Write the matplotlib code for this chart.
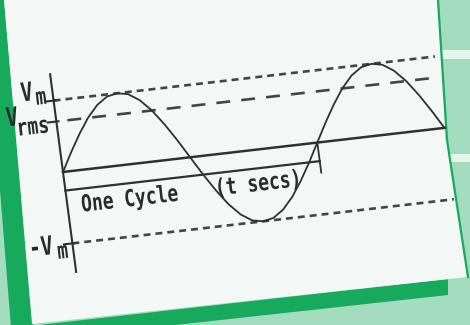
import numpy as np
import matplotlib
matplotlib.use("Agg")
import matplotlib.pyplot as plt
from matplotlib.patches import Polygon, PathPatch
from matplotlib.transforms import Affine2D
from matplotlib.textpath import TextPath
from matplotlib.font_manager import FontProperties

plt.rcParams['lines.scale_dashes'] = False

# wave (phase in degrees, voltage in units of Vm)
wave_deg = [0, 15, 30, 45, 60, 75, 90, 105, 120, 135, 150, 165, 180,
            195, 210, 225, 240, 255, 270, 285, 300, 315, 330, 345, 360,
            375, 390, 405, 420, 435, 450, 465, 480, 495, 510, 525, 540]
wave_v = [0.00, 0.26, 0.50, 0.71, 0.87, 0.97, 1.00, 0.97, 0.87, 0.71, 0.50, 0.26, 0.00,
          -0.26, -0.50, -0.71, -0.87, -0.97, -1.00, -0.97, -0.87, -0.71, -0.50, -0.26, 0.00,
          0.26, 0.50, 0.71, 0.87, 0.97, 1.00, 0.97, 0.87, 0.71, 0.50, 0.26, 0.00]

v_max = 1.0
v_rms = 0.707
cycle_deg = 360
span_deg = [0, 540]
cycle_line_v = -0.26

ink = '#303030'
mint = '#a3dbbf'
green = '#17a95c'
paper = '#f3f8f6'

fig = plt.figure(figsize=(4.7, 3.25), dpi=100)
fig.patch.set_facecolor(mint)
ax = fig.add_axes([0, 0, 1, 1])
ax.set_axis_off()

# page background bits (image pixel coords, y down)
ax.add_patch(Polygon([(440, 50), (470, 50), (470, 59), (441, 59)], color='#e6f5ec', lw=0))
ax.add_patch(Polygon([(446, 154), (470, 154), (470, 162), (447, 162)], color='#e6f5ec', lw=0))
ax.add_patch(Polygon([(30, 326), (448, 279), (448, 295), (30, 341)], color=green, lw=0))
ax.add_patch(Polygon([(0, 0), (4, 0), (35, 340), (12, 340), (0, 190)], color=green, lw=0))
ax.add_patch(Polygon([(4, 0), (438, 0), (447, 140), (468, 277), (32, 324)], color=paper, lw=0))
ax.plot([438, 447, 468], [0, 140, 277], color=green, lw=1.6)

# the diagram is photographed at a tilt: degrees/Vm -> pixels
th = np.deg2rad(6.6)
ph = np.deg2rad(7.5)
su = 256 / 360
sv = 72
M = np.array([[su * np.cos(th), -sv * np.sin(ph), 63],
              [-su * np.sin(th), -sv * np.cos(ph), 172],
              [0, 0, 1]])
tr = Affine2D(M) + ax.transData

# reference levels
ax.plot(span_deg, [v_max, v_max], transform=tr, color='#444444', lw=1.9, ls=(0, (5, 3.6)))
ax.plot(span_deg, [-v_max, -v_max], transform=tr, color='#444444', lw=1.9, ls=(0, (5, 3.6)))
ax.plot(span_deg, [v_rms, v_rms], transform=tr, color='#444444', lw=1.9, ls=(10, (10, 8)))
for lev in [v_max, v_rms, -v_max]:
    ax.plot([-12, 3], [lev, lev], transform=tr, color=ink, lw=1.5)

# axes
ax.plot(span_deg, [0, 0], transform=tr, color=ink, lw=1.8)
ax.plot([0, 0], [-1.4, 1.37], transform=tr, color=ink, lw=1.5)

# one cycle marker
ax.plot([0, cycle_deg], [cycle_line_v, cycle_line_v], transform=tr, color=ink, lw=1.6)
ax.plot([cycle_deg, cycle_deg], [0, -0.42], transform=tr, color=ink, lw=1.3)

# the wave
ax.plot(wave_deg, wave_v, transform=tr, color=ink, lw=1.3)

# tall narrow computer lettering -> stretched text paths
fp = FontProperties(family='DejaVu Sans Mono', weight='bold')

def label(u, v, s, em=18, stretch=1.3):
    cx, cy, _ = M @ np.array([u, v, 1.0])
    p = TextPath((0, 0), s, size=em, prop=fp)
    b = p.get_extents()
    t = (Affine2D().translate(-(b.x0 + b.x1) / 2, -(b.y0 + b.y1) / 2)
         .scale(1, stretch).rotate_deg(6.6).scale(1, -1).translate(cx, cy))
    ax.add_patch(PathPatch(t.transform_path(p), fc='#2b2b2b', lw=0))

label(88, -0.49, 'One Cycle')
label(270, -0.47, '(t secs)')
label(-36, 1.17, 'V', em=20)
label(-17, 1.06, 'm')
label(-61, 0.85, 'V', em=20)
label(-33, 0.66, 'rms')
label(-43, -0.985, '-V', em=20)
label(-15, -1.10, 'm')

ax.set_xlim(0, 470)
ax.set_ylim(325, 0)
fig.savefig('out.png', dpi=100, facecolor=fig.get_facecolor())
